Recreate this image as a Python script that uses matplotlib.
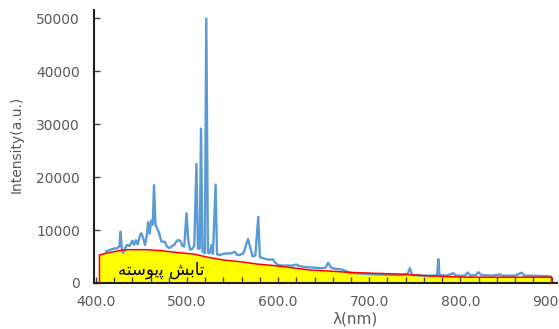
import numpy as np
import matplotlib.pyplot as plt

# spectrum (wavelength nm, intensity a.u.)
wl = [411.5, 416, 420, 424, 426, 427.1, 428.5, 430, 432, 434, 437, 440, 442, 444, 446,
      448.6, 450, 452, 454, 455.5, 457.4, 459, 460.7, 462.5, 463.8, 465.5, 467, 469.5,
      472, 475.7, 478, 481, 483, 486, 489, 491, 493, 495, 497, 499.5, 501.5, 503.5, 506,
      508, 510.4, 512, 514, 515.4, 517, 519.6, 521.2, 523, 525, 527, 528.5, 531.4, 533,
      536, 540, 545, 548, 552.6, 555, 558, 562, 565.4, 567, 569, 572, 575, 578.2, 580,
      585, 590, 592, 594, 596, 600, 605, 610, 616, 620, 623, 630, 640, 648, 652, 655,
      658, 662, 668, 671, 675, 680, 690, 700, 710, 720, 735, 742, 744.7, 747, 760, 770,
      774.5, 775.8, 777, 785, 792.3, 795, 805, 808, 811, 817, 819.7, 823, 835, 843.5,
      846, 860, 867.3, 870, 885, 895, 899]
inten = [6000, 6300, 6500, 6600, 7000, 9700, 6500, 5700, 6500, 7200, 7000, 8000, 7200, 8100, 7300,
         9100, 9400, 8500, 7200, 8500, 11500, 9300, 11800, 11000, 18500, 11000, 10400, 9400,
         7800, 7800, 6900, 6600, 6900, 7200, 8000, 8100, 7900, 7000, 6900, 13200, 8000, 6300, 6500,
         7000, 22500, 6500, 6500, 29200, 6000, 5600, 50000, 5700, 5600, 7200, 5500, 18600, 5400,
         5300, 5500, 5600, 5600, 5900, 5300, 5300, 5600, 7500, 8300, 7000, 5000, 5200, 12500, 4900,
         4600, 4400, 4400, 4500, 4000, 3400, 3300, 3300, 3300, 3500, 3200, 3000, 2900, 2800, 2900, 3850,
         2900, 2700, 2600, 2500, 2200, 1900, 1800, 1700, 1600, 1550, 1500, 1700, 2800, 1500, 1400, 1400,
         1500, 4500, 1500, 1400, 1850, 1400, 1400, 2000, 1400, 1500, 2050, 1500, 1400, 1600,
         1400, 1400, 1950, 1400, 1350, 1300, 1200]

# continuum (yellow area)
cont_wl = [404, 413, 425, 435, 455, 472, 490, 508, 522, 540, 558, 576, 595, 610,
           635, 657, 679, 701, 712, 737, 765, 803, 850, 900]
cont_i = [5300, 5700, 6100, 6300, 6300, 6100, 5750, 5450, 4900, 4350, 4030, 3600, 3300, 3000,
          2450, 2250, 2000, 1850, 1800, 1650, 1350, 1100, 1100, 1100]

label_fa = '\ufeea\ufe98\ufeb3\ufeee\ufbfe\ufb58 \ufeb6\ufe91\ufe8e\ufe97'  # "تابش پیوسته" in display order

grey = '#595959'
fig = plt.figure(figsize=(5.59, 3.29), dpi=100)
ax = fig.add_axes([94 / 559, 46 / 329, 463 / 559, 273 / 329])

cx = [cont_wl[0]] + cont_wl + [cont_wl[-1]]
cy = [0] + cont_i + [0]
ax.fill_between(cont_wl, 0, cont_i, color='#FFFF00', lw=0, zorder=1)
ax.plot(wl, inten, color='#5B9BD5', lw=1.7, zorder=2)
ax.plot(cx, cy, color='#FF0000', lw=1.1, zorder=3)
ax.text(472, 2400, label_fa, ha='center', va='center', fontsize=12,
        family=['DejaVu Sans'], zorder=4)

ax.set_xlim(398, 906)
ax.set_ylim(0, 51600)
ax.set_xticks(np.arange(400, 901, 100))
ax.set_xticks(np.arange(400, 901, 20), minor=True)
ax.set_xticklabels(['%.1f' % v for v in np.arange(400, 901, 100)])
ax.set_yticks(np.arange(0, 50001, 10000))
ax.tick_params(axis='both', direction='in', length=4, width=1, color='#404040',
               labelcolor=grey, labelsize=10)
ax.tick_params(axis='x', which='minor', direction='in', length=4, width=1, color='#404040')
ax.tick_params(axis='y', pad=10)
ax.tick_params(axis='x', pad=9)

for s in ['top', 'right']:
    ax.spines[s].set_visible(False)
for s in ['left', 'bottom']:
    ax.spines[s].set_linewidth(1.5)
    ax.spines[s].set_color('#202020')

ax.set_ylabel('Intensity(a.u.)', color=grey, fontsize=10)
ax.yaxis.set_label_coords(-0.152, 0.509)
ax.set_xlabel('λ(nm)', color=grey, fontsize=11)
ax.xaxis.set_label_coords(0.564, -0.105)

fig.savefig('out.png', dpi=100)
